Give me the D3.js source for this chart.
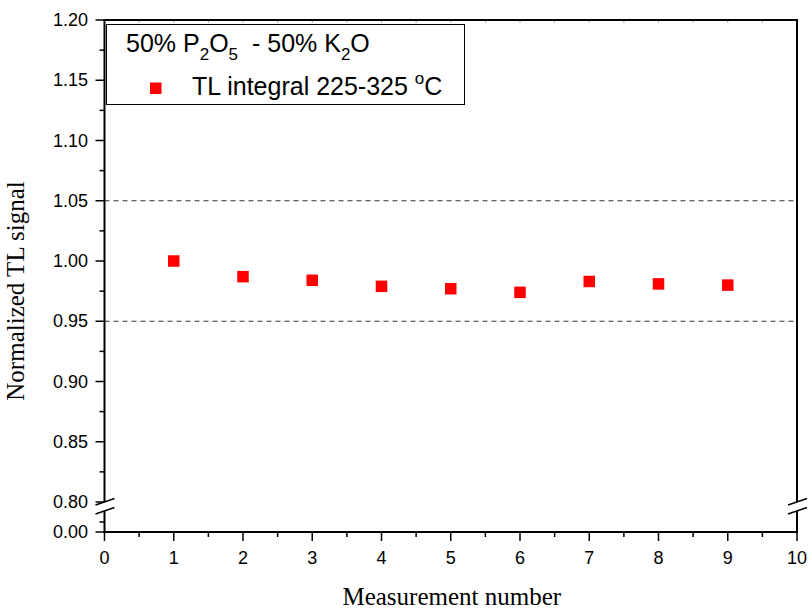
<!DOCTYPE html>
<html>
<head>
<meta charset="utf-8">
<script src="https://cdnjs.cloudflare.com/ajax/libs/d3/7.8.5/d3.min.js"></script>
<style>
  body { margin: 0; background: #fff; }
  text { fill: #000; }
</style>
</head>
<body>
<div id="chart"></div>
<script>
// measurement data
var measurement = [1, 2, 3, 4, 5, 6, 7, 8, 9];
var tlSignal = [1.000, 0.987, 0.984, 0.979, 0.977, 0.974, 0.983, 0.981, 0.980];
var xTicks = [0, 1, 2, 3, 4, 5, 6, 7, 8, 9, 10];
var yTicks = [0.80, 0.85, 0.90, 0.95, 1.00, 1.05, 1.10, 1.15, 1.20];
var limitLines = [0.95, 1.05];

var width = 808, height = 612;
var pLeft = 104.5, pRight = 797, pTop = 20, pBottom = 532;

var svg = d3.select('#chart').append('svg')
    .attr('width', width)
    .attr('height', height);

// scales: upper part of the broken y axis, and the small piece below the break
var x = d3.scaleLinear().domain([0, 10]).range([pLeft, pRight]);
var y = d3.scaleLinear().domain([0.80, 1.20]).range([502, pTop]);
var yLow = d3.scaleLinear().domain([0, 0.03]).range([pBottom, 502]);

var tickFont = 'Arial, "Liberation Sans", sans-serif';
var tickSize = '18px';

/* dashed limit lines */
svg.selectAll('.limit').data(limitLines).enter().append('line')
    .attr('x1', pLeft).attr('x2', pRight)
    .attr('y1', function(d) { return y(d); })
    .attr('y2', function(d) { return y(d); })
    .attr('stroke', '#333')
    .attr('stroke-width', 1)
    .attr('stroke-dasharray', '5,4');

/* x axis */
var xMinor = d3.range(0.5, 10, 1);
svg.selectAll('.xminor').data(xMinor).enter().append('line')
    .attr('x1', function(d) { return x(d); }).attr('x2', function(d) { return x(d); })
    .attr('y1', pBottom).attr('y2', pBottom + 5)
    .attr('stroke', '#000').attr('stroke-width', 1.5);
svg.selectAll('.xmajor').data(xTicks).enter().append('line')
    .attr('x1', function(d) { return x(d); }).attr('x2', function(d) { return x(d); })
    .attr('y1', pBottom).attr('y2', pBottom + 9)
    .attr('stroke', '#000').attr('stroke-width', 1.5);
svg.selectAll('.xlab').data(xTicks).enter().append('text')
    .attr('x', function(d) { return x(d); })
    .attr('y', 564)
    .attr('text-anchor', 'middle')
    .style('font-family', tickFont)
    .style('font-size', tickSize)
    .text(function(d) { return d; });

/* top axis, tiny inner ticks */
svg.selectAll('.xtop').data(xTicks.concat(xMinor)).enter().append('line')
    .attr('x1', function(d) { return x(d); }).attr('x2', function(d) { return x(d); })
    .attr('y1', pTop).attr('y2', pTop + 3)
    .attr('stroke', '#aaa').attr('stroke-width', 1);

/* y axis ticks */
var yMinor = d3.range(0.825, 1.2, 0.05);
svg.selectAll('.yminor').data(yMinor).enter().append('line')
    .attr('x1', pLeft - 5).attr('x2', pLeft)
    .attr('y1', function(d) { return y(d); }).attr('y2', function(d) { return y(d); })
    .attr('stroke', '#000').attr('stroke-width', 1.5);
svg.selectAll('.ymajor').data(yTicks).enter().append('line')
    .attr('x1', pLeft - 9).attr('x2', pLeft)
    .attr('y1', function(d) { return y(d); }).attr('y2', function(d) { return y(d); })
    .attr('stroke', '#000').attr('stroke-width', 1.5);
svg.selectAll('.ylab').data(yTicks).enter().append('text')
    .attr('x', 88)
    .attr('y', function(d) { return y(d) + 6; })
    .attr('text-anchor', 'end')
    .style('font-family', tickFont)
    .style('font-size', tickSize)
    .text(function(d) { return d3.format('.2f')(d); });

// lower piece below break
svg.append('line')
    .attr('x1', pLeft - 5).attr('x2', pLeft)
    .attr('y1', yLow(0.01)).attr('y2', yLow(0.01))
    .attr('stroke', '#000').attr('stroke-width', 1.5);
svg.append('line')
    .attr('x1', pLeft - 9).attr('x2', pLeft)
    .attr('y1', yLow(0)).attr('y2', yLow(0))
    .attr('stroke', '#000').attr('stroke-width', 1.5);
svg.append('text')
    .attr('x', 88).attr('y', yLow(0) + 6)
    .attr('text-anchor', 'end')
    .style('font-family', tickFont)
    .style('font-size', tickSize)
    .text('0.00');

/* frame with breaks on left and right */
var breakTop = 502, breakBot = 511;
[pLeft, pRight].forEach(function(px) {
    svg.append('line').attr('x1', px).attr('x2', px)
        .attr('y1', pTop).attr('y2', breakTop)
        .attr('stroke', '#000').attr('stroke-width', 2);
    svg.append('line').attr('x1', px).attr('x2', px)
        .attr('y1', breakBot).attr('y2', pBottom + 1)
        .attr('stroke', '#000').attr('stroke-width', 2);
    [breakTop, breakBot].forEach(function(py) {
        svg.append('line')
            .attr('x1', px - 9).attr('y1', py + 3)
            .attr('x2', px + 10).attr('y2', py - 3.5)
            .attr('stroke', '#000').attr('stroke-width', 1.5);
    });
});
svg.append('line').attr('x1', pLeft - 1).attr('x2', pRight + 1)
    .attr('y1', pTop).attr('y2', pTop)
    .attr('stroke', '#000').attr('stroke-width', 2);
svg.append('line').attr('x1', pLeft - 1).attr('x2', pRight + 1)
    .attr('y1', pBottom).attr('y2', pBottom)
    .attr('stroke', '#000').attr('stroke-width', 2);

/* data points */
var s = 11.5;
svg.selectAll('.pt').data(measurement).enter().append('rect')
    .attr('x', function(d) { return x(d) - s / 2; })
    .attr('y', function(d, i) { return y(tlSignal[i]) - s / 2; })
    .attr('width', s).attr('height', s)
    .attr('fill', '#ff0000');

/* axis titles */
var serif = '"Times New Roman", "Liberation Serif", serif';
svg.append('text')
    .attr('x', (pLeft + pRight) / 2 + 1)
    .attr('y', 605)
    .attr('text-anchor', 'middle')
    .style('font-family', serif)
    .style('font-size', '25px')
    .text('Measurement number');
svg.append('text')
    .attr('transform', 'translate(24,291) rotate(-90)')
    .attr('text-anchor', 'middle')
    .style('font-family', serif)
    .style('font-size', '25px')
    .text('Normalized TL signal');

/* legend */
var lg = svg.append('g');
lg.append('rect')
    .attr('x', 106.5).attr('y', 24.5)
    .attr('width', 358).attr('height', 80)
    .attr('fill', '#fff').attr('stroke', '#000').attr('stroke-width', 1);

var t1 = lg.append('text')
    .attr('x', 126).attr('y', 52)
    .style('font-family', tickFont)
    .style('font-size', '25px');
t1.append('tspan').text('50% P');
t1.append('tspan').attr('dy', 8).style('font-size', '17px').text('2');
t1.append('tspan').attr('dy', -8).text('O');
t1.append('tspan').attr('dy', 8).style('font-size', '17px').text('5');
t1.append('tspan').attr('dy', -8).text('\u00a0 - 50% K');
t1.append('tspan').attr('dy', 8).style('font-size', '17px').text('2');
t1.append('tspan').attr('dy', -8).text('O');

lg.append('rect')
    .attr('x', 150).attr('y', 82.5)
    .attr('width', s).attr('height', s)
    .attr('fill', '#ff0000');
var t2 = lg.append('text')
    .attr('x', 192).attr('y', 95)
    .style('font-family', tickFont)
    .style('font-size', '25px');
t2.append('tspan').text('TL integral 225-325 ');
t2.append('tspan').attr('dy', -11).style('font-size', '17px').text('o');
t2.append('tspan').attr('dy', 11).text('C');
</script>
</body>
</html>
